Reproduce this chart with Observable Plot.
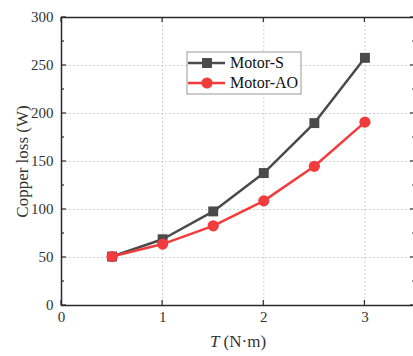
<!DOCTYPE html>
<html><head><meta charset="utf-8">
<script src="https://cdn.jsdelivr.net/npm/d3@7"></script>
<script src="https://cdn.jsdelivr.net/npm/@observablehq/plot@0.6"></script>
<style>
body{margin:0;overflow:hidden;background:#fff}
#c{position:relative;width:413px;height:356px;overflow:hidden}
</style>
</head><body><div id="c"></div>
<script>
const torque = [0.5, 1, 1.5, 2, 2.5, 3];
const motorS = [51, 69, 98, 138, 190, 258];
const motorAO = [51, 64, 83, 109, 145, 191];
const seriesNames = ["Motor-S", "Motor-AO"];
const seriesColors = ["#4a4a4a", "#f03c3c"];
const seriesSymbols = ["square", "circle"];
const xTicks = [0, 1, 2, 3];
const yTicks = [0, 50, 100, 150, 200, 250, 300];
const yMinor = [25, 75, 125, 175, 225, 275];
const xLabel = ["T", " (N·m)"];
const yLabel = "Copper loss (W)";

const rows = [];
[motorS, motorAO].forEach((vals, i) => vals.forEach((v, j) => rows.push({T: torque[j], loss: v, s: seriesNames[i]})));

const font = "Liberation Serif, Times New Roman, serif";
const chart = Plot.plot({
  width: 413, height: 356,
  marginLeft: 61, marginTop: 17, marginBottom: 51, marginRight: -2,
  style: {fontFamily: font, fontSize: "15px", color: "#333", background: "#fff"},
  x: {domain: [0, 3.5]},
  y: {domain: [0, 300]},
  color: {domain: seriesNames, range: seriesColors},
  symbol: {domain: seriesNames, range: seriesSymbols},
  marks: [
    Plot.ruleY(yTicks.filter(d => d > 0 && d < 300), {stroke: "#cfcfcf", strokeDasharray: "2,2", strokeWidth: 1}),
    Plot.ruleX(xTicks.filter(d => d > 0), {stroke: "#cfcfcf", strokeDasharray: "2,2", strokeWidth: 1}),
    Plot.axisY({ticks: yTicks, tickSize: 0, tickPadding: 8, label: yLabel, labelAnchor: "center", labelArrow: "none", labelOffset: 46, fontSize: 15, tickFormat: d => d}),
    Plot.axisX({ticks: xTicks, tickSize: 0, tickPadding: 6, label: null, tickFormat: d => d}),
    Plot.frame({stroke: "#2a2a2a", strokeWidth: 1.5}),
    Plot.line(rows, {x: "T", y: "loss", z: "s", stroke: "s", strokeWidth: 2.5}),
    Plot.dot(rows, {x: "T", y: "loss", fill: "s", symbol: "s", r: 5.6, stroke: "none"})
  ]
});
document.getElementById("c").appendChild(chart);

const svg = d3.select(chart);
const sx = chart.scale("x"), sy = chart.scale("y");
const [x0, x1] = sx.range, [y0, y1] = sy.range; // y0 bottom, y1 top
svg.selectAll("g[aria-label='y-axis label'] text").style("font-size", "17px");

// inward ticks on all four sides
const tk = svg.append("g").attr("stroke", "#2a2a2a").attr("stroke-width", 1.2);
const addY = (vals, len) => vals.forEach(v => {
  const y = sy.apply(v);
  tk.append("line").attr("x1", x0).attr("x2", x0 + len).attr("y1", y).attr("y2", y);
  tk.append("line").attr("x1", x1).attr("x2", x1 - len).attr("y1", y).attr("y2", y);
});
const addX = (vals, len) => vals.forEach(v => {
  const x = sx.apply(v);
  tk.append("line").attr("x1", x).attr("x2", x).attr("y1", y0).attr("y2", y0 - len);
  tk.append("line").attr("x1", x).attr("x2", x).attr("y1", y1).attr("y2", y1 + len);
});
addY(yTicks, 5); addY(yMinor, 3);
addX(xTicks, 5);

// x label with italic T
const xl = svg.append("text")
  .attr("x", (x0 + x1) / 2).attr("y", 347)
  .attr("text-anchor", "middle")
  .style("font-family", font).style("font-size", "17px").attr("fill", "#333");
xl.append("tspan").style("font-style", "italic").text(xLabel[0]);
xl.append("tspan").text(xLabel[1]);

// legend
const lg = svg.append("g").attr("transform", "translate(187,52)");
lg.append("rect").attr("width", 114).attr("height", 42).attr("fill", "#fff").attr("stroke", "#999").attr("stroke-width", 1);
seriesNames.forEach((name, i) => {
  const y = 11 + i * 20;
  lg.append("line").attr("x1", 1).attr("x2", 38).attr("y1", y).attr("y2", y).attr("stroke", seriesColors[i]).attr("stroke-width", 2.5);
  const sym = d3.symbol(i === 0 ? d3.symbolSquare : d3.symbolCircle, Math.PI * 5.6 * 5.6);
  lg.append("path").attr("d", sym()).attr("transform", `translate(20,${y})`).attr("fill", seriesColors[i]);
  lg.append("text").attr("x", 43).attr("y", y + 5).attr("text-anchor", "start")
    .style("font-family", font).style("font-size", "16px").attr("fill", "#111").text(name);
});
</script>
</body></html>
